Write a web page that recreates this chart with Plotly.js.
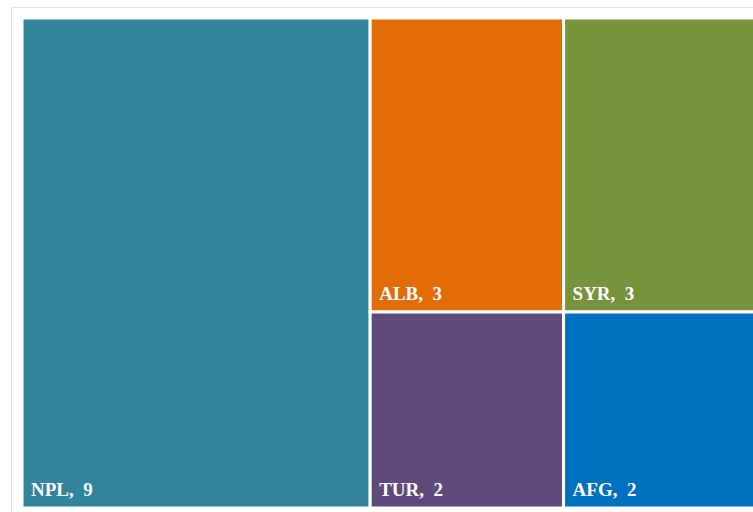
<!DOCTYPE html>
<html>
<head>
<meta charset="utf-8">
<script src="https://cdn.plot.ly/plotly-3.0.1.min.js"></script>
<style>
html,body{margin:0;padding:0;overflow:hidden;background:#fff;width:753px;height:512px;}
#frame{position:absolute;left:11px;top:7px;width:900px;height:700px;border:1px solid #e2e2e2;box-sizing:border-box;}
#chart{position:absolute;left:0;top:0;}
</style>
</head>
<body>
<div id="frame"></div>
<div id="chart"></div>
<script>
var countries = ["NPL", "ALB", "SYR", "TUR", "AFG"];
var counts = [9, 3, 3, 2, 2];
var colors = ["#31849B", "#E36C09", "#77933C", "#604A7B", "#0070C0"];

var trace = {
  type: "treemap",
  labels: countries,
  parents: countries.map(function(){ return ""; }),
  values: counts,
  sort: true,
  marker: {colors: colors, line: {color: "#ffffff", width: 3}, pad: {t: 0, l: 0, r: 0, b: 0}},
  tiling: {packing: "squarify", pad: 0},
  pathbar: {visible: false},
  textposition: "bottom left",
  texttemplate: "\u00a0\u00a0\u00a0\u00a0<span style='font-size:19px'><b>%{label},\u00a0 %{value}</b></span><br>\u00a0",
  textfont: {family: "Liberation Serif, Times New Roman, serif", size: 6, color: "#ffffff"},
  insidetextfont: {family: "Liberation Serif, Times New Roman, serif", size: 6, color: "#ffffff"},
  hoverinfo: "label+value"
};

var layout = {
  width: 757,
  height: 512,
  margin: {l: 22, r: 0, t: 18, b: 4},
  paper_bgcolor: "rgba(0,0,0,0)",
  plot_bgcolor: "rgba(0,0,0,0)",
  showlegend: false
};

Plotly.newPlot("chart", [trace], layout, {displayModeBar: false, staticPlot: true});
</script>
</body>
</html>
